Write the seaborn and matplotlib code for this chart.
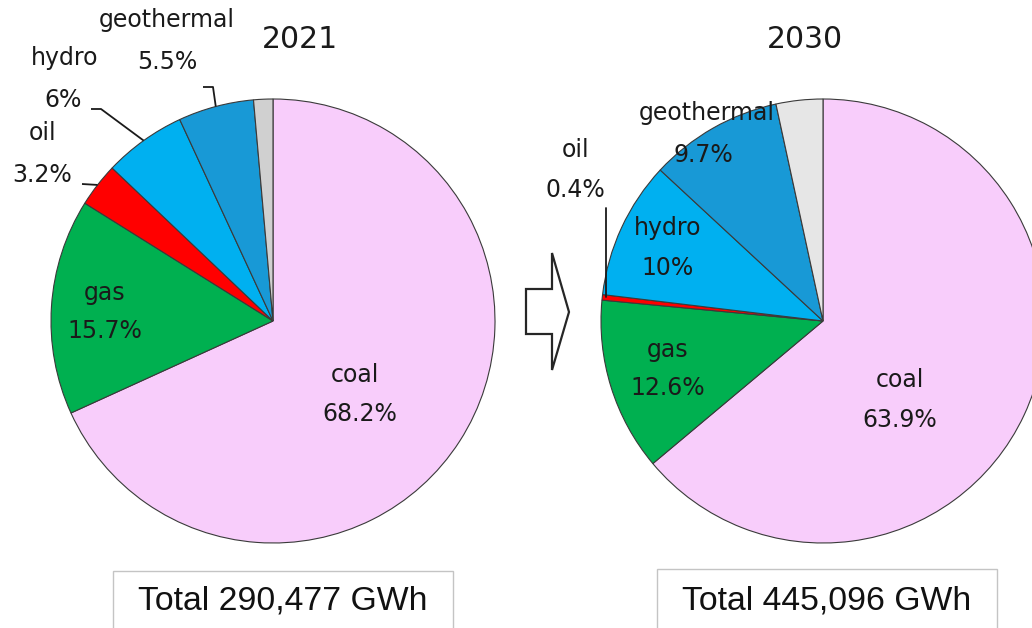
import numpy as np
import matplotlib
matplotlib.use("Agg")
import matplotlib.pyplot as plt
from matplotlib.patches import Polygon, Rectangle
import seaborn as sns

# ---- data -------------------------------------------------------------
sources = ["coal", "gas", "oil", "hydro", "geothermal", "other"]
share_2021 = [68.2, 15.7, 3.2, 6.0, 5.5, 1.4]
share_2030 = [63.9, 12.6, 0.4, 10.0, 9.7, 3.4]
years = ["2021", "2030"]
totals = ["Total 290,477 GWh", "Total 445,096 GWh"]

colors_2021 = ["#F8CDFB", "#00B050", "#FF0000", "#00B0F0", "#1899D6", "#D0D0D0"]
colors_2030 = ["#F8CDFB", "#00B050", "#FF0000", "#00B0F0", "#1899D6", "#E6E6E6"]

# ---- canvas in pixel units (y measured upward) ------------------------
W, H = 1032, 628
sns.set_theme(style="white")
plt.rcParams["font.family"] = ["DejaVu Sans"]

fig = plt.figure(figsize=(W / 100, H / 100), dpi=100)
ax = fig.add_axes([0, 0, 1, 1])


def Y(y):
    return H - y


R = 222
centers = [(273, Y(321)), (823, Y(321))]
label_fs = 17
txt_col = "#1a1a1a"


def draw_pie(values, colors, center):
    wedges, _ = ax.pie(values, colors=colors, radius=R, center=center,
                       startangle=90, counterclock=False, frame=True,
                       wedgeprops=dict(edgecolor="#3a3a3a", linewidth=0.8))
    return wedges


def anchor(wedge, center):
    mid = np.deg2rad((wedge.theta1 + wedge.theta2) / 2)
    return center[0] + R * np.cos(mid), center[1] + R * np.sin(mid)


def two_line(name, value, xy_name, xy_val):
    ax.text(xy_name[0], Y(xy_name[1]), name, ha="center", va="center",
            fontsize=label_fs, color=txt_col)
    ax.text(xy_val[0], Y(xy_val[1]), f"{value:g}%", ha="center", va="center",
            fontsize=label_fs, color=txt_col)


w21 = draw_pie(share_2021, colors_2021, centers[0])
w30 = draw_pie(share_2030, colors_2030, centers[1])

# ---- 2021 labels --------------------------------------------------------
two_line("coal", share_2021[0], (355, 375), (360, 414))
two_line("gas", share_2021[1], (105, 293), (105, 331))
two_line("oil", share_2021[2], (43, 133), (42, 175))
two_line("hydro", share_2021[3], (65, 58), (63, 100))
two_line("geothermal", share_2021[4], (167, 20), (167, 62))

leader_knees_2021 = {2: [(82, 184)], 3: [(91, 109), (101, 109)], 4: [(203, 87), (213, 87)]}
for idx, knees in leader_knees_2021.items():
    ax_, ay_ = anchor(w21[idx], centers[0])
    xs = [k[0] for k in knees] + [ax_]
    ys = [Y(k[1]) for k in knees] + [ay_]
    ax.plot(xs, ys, color="#1a1a1a", lw=1.3, solid_capstyle="butt")

# ---- 2030 labels --------------------------------------------------------
two_line("coal", share_2030[0], (900, 380), (900, 420))
two_line("gas", share_2030[1], (668, 350), (668, 388))
two_line("oil", share_2030[2], (576, 150), (575, 190))
two_line("hydro", share_2030[3], (668, 228), (668, 268))
two_line("geothermal", share_2030[4], (707, 113), (703, 155))

ox, oy = anchor(w30[2], centers[1])
ax.plot([ox + 4, ox + 4], [Y(208), oy], color="#1a1a1a", lw=1.3)

# ---- titles ---------------------------------------------------------------
ax.text(300, Y(40), years[0], ha="center", va="center", fontsize=21.5, color=txt_col)
ax.text(805, Y(40), years[1], ha="center", va="center", fontsize=21.5, color=txt_col)

# ---- block arrow between the pies ---------------------------------------
arrow_pts = [(526, 289), (552, 289), (552, 253), (569, 312),
             (552, 370), (552, 334), (526, 334)]
ax.add_patch(Polygon([(x, Y(y)) for x, y in arrow_pts], closed=True,
                     facecolor="white", edgecolor="#262626", lw=1.6, zorder=3))

# ---- total boxes ----------------------------------------------------------
for (x0, x1, y0), label in zip([(113, 453, 571), (657, 997, 569)], totals):
    ax.add_patch(Rectangle((x0, Y(640)), x1 - x0, 640 - y0, facecolor="white",
                           edgecolor="#c4c4c4", lw=1.0, zorder=3))
    ax.text((x0 + x1) / 2, Y(601), label, ha="center", va="center",
            fontsize=24.3, family=["Liberation Sans"], color="#111111", zorder=4)

ax.set_xlim(0, W)
ax.set_ylim(0, H)
ax.set_aspect("auto")
ax.axis("off")

fig.savefig("out.png", dpi=100, facecolor="white")
